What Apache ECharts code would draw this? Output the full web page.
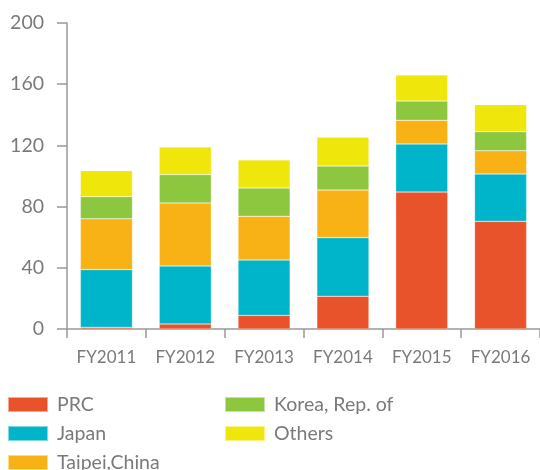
<!DOCTYPE html>
<html><head><meta charset="utf-8">
<script src="https://cdn.jsdelivr.net/npm/echarts@6/dist/echarts.min.js"></script>
<style>html,body{margin:0;padding:0;background:#fff}#c{width:540px;height:470px}</style>
</head><body><div id="c"></div>
<script>
var categories = ['FY2011','FY2012','FY2013','FY2014','FY2015','FY2016'];
var prc    = [1.1, 3.3, 8.9, 21.4, 89.5, 70.4];
var japan  = [37.7, 37.9, 36.2, 38.3, 31.4, 30.9];
var taipei = [33.2, 41.2, 28.6, 31.1, 15.5, 15.2];
var korea  = [14.5, 18.5, 18.5, 15.7, 12.6, 12.5];
var others = [17.0, 18.0, 18.3, 18.8, 17.0, 17.6];
var yTicks = [0, 40, 80, 120, 160, 200];
var seriesNames = ['PRC','Japan','Taipei,China','Korea, Rep. of','Others'];
var seriesData = [prc, japan, taipei, korea, others];
var colors = ['#E9532B','#00B4C9','#F9B216','#8DC63F','#EFE60C'];

var font = 'Lato, "Open Sans", sans-serif';
var chart = echarts.init(document.getElementById('c'));
var legendText = {color:'#7a7a7a', fontSize:19.5, fontFamily:font, lineHeight:15, padding:[0,0,0,4]};
var legendPos = [[7,394.5],[7,423.5],[7,452.5],[224,394.5],[224,423.5]];
var legends = seriesNames.map(function(n,i){
  return {data:[n], orient:'horizontal', left:legendPos[i][0], top:legendPos[i][1], padding:0,
    itemWidth:40, itemHeight:15, icon:'rect', textStyle:legendText, selectedMode:false};
});
chart.setOption({
  animation:false,
  color: colors,
  grid:{left:67, right:0, top:23, bottom:141},
  legend: legends,
  xAxis:{type:'category', data:categories,
    axisLine:{lineStyle:{color:'#999', width:1.5}},
    axisTick:{show:true, length:9, lineStyle:{color:'#999', width:1.5}},
    axisLabel:{color:'#7a7a7a', fontSize:17, fontFamily:font, margin:20}
  },
  yAxis:{type:'value', min:yTicks[0], max:yTicks[yTicks.length-1], interval:40,
    axisLine:{show:true, lineStyle:{color:'#999', width:1.5}},
    axisTick:{show:true, length:10, lineStyle:{color:'#999', width:1.5}},
    splitLine:{show:false},
    axisLabel:{color:'#7a7a7a', fontSize:19.5, fontFamily:font, margin:23}
  },
  series: seriesData.map(function(d,i){
    return {name:seriesNames[i], type:'bar', stack:'total', data:d, barWidth:'66%',
      itemStyle:{color:colors[i], borderColor:'rgba(255,255,255,0.5)', borderWidth:0.5}};
  })
});
</script></body></html>
